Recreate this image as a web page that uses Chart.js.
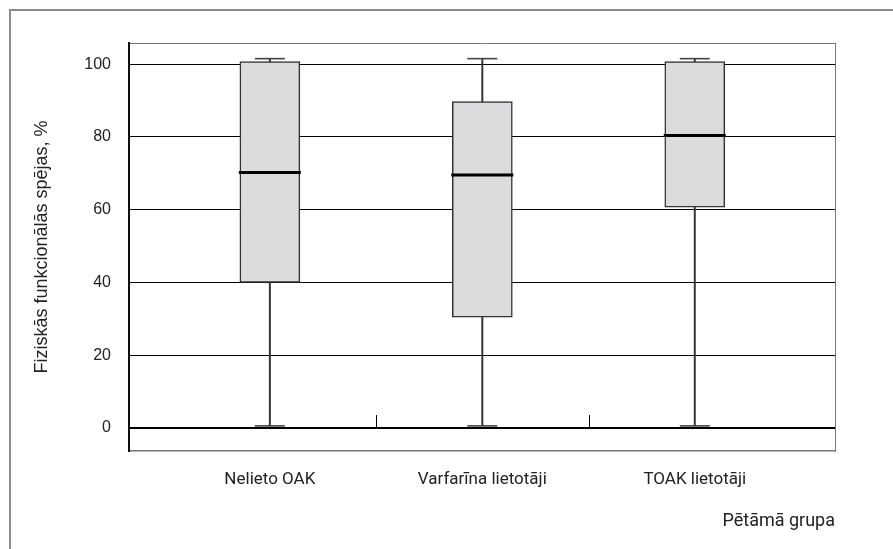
<!DOCTYPE html>
<html>
<head>
<meta charset="utf-8">
<script src="https://cdn.jsdelivr.net/npm/chart.js@4.4.1/dist/chart.umd.min.js"></script>
<style>
  html, body { margin: 0; padding: 0; background: #fff; overflow: hidden; }
  #wrap { position: relative; width: 893px; height: 549px; }
  #frame { position: absolute; left: 9px; top: 9px; width: 900px; height: 560px;
           border-left: 2px solid #8c8c8c; border-top: 2px solid #8c8c8c; }
  canvas { position: absolute; left: 0; top: 0; }
</style>
</head>
<body>
<div id="wrap">
  <div id="frame"></div>
  <canvas id="chart" width="893" height="549"></canvas>
</div>
<script>
// ---------- Data ----------
const groups     = ["Nelieto OAK", "Varfarīna lietotāji", "TOAK lietotāji"];
const groupPos   = [1, 2, 3];
const whiskerMin = [0.6, 0.6, 0.6];
const boxLow     = [40.0, 30.5, 60.7];
const medians    = [70.2, 69.5, 80.4];
const boxHigh    = [100.7, 89.7, 100.7];
const whiskerMax = [101.5, 101.5, 101.5];
const yTicks     = [0, 20, 40, 60, 80, 100];
const dividerTicks = [1.5, 2.5]; // short marks between groups on the 0 line

const TEXT = "#222";
const SANS = "'Liberation Sans', Arial, sans-serif";
const LABEL_FONT = "Roboto, 'Liberation Sans', sans-serif";
const X_MIN = 0.337, X_MAX = 3.66;
const Y_MIN = -6.3, Y_MAX = 105.8;

// ---------- Helpers ----------
function pts(values) {
  return values.map((v, i) => ({ x: groupPos[i], y: v }));
}
function ranges(lo, hi) {
  return lo.map((v, i) => ({ x: groupPos[i], y: [v, hi[i]] }));
}

// short vertical marks standing on the zero line
const dividerPlugin = {
  id: "dividers",
  afterDatasetsDraw(chart) {
    const { ctx, scales: { x, y } } = chart;
    const y0 = y.getPixelForValue(0);
    ctx.save();
    ctx.strokeStyle = "#000";
    ctx.lineWidth = 1;
    dividerTicks.forEach(v => {
      const px = Math.round(x.getPixelForValue(v)) + 0.5;
      ctx.beginPath();
      ctx.moveTo(px, y0);
      ctx.lineTo(px, y0 - 13);
      ctx.stroke();
    });
    ctx.restore();
  }
};

new Chart(document.getElementById("chart"), {
  type: "bar",
  data: {
    datasets: [
      {
        label: "median",
        type: "scatter",
        data: pts(medians),
        pointStyle: "line",
        pointRadius: 31,
        borderWidth: 3,
        borderColor: "#000",
        order: 1
      },
      {
        label: "caps",
        type: "scatter",
        data: pts(whiskerMin).concat(pts(whiskerMax)),
        pointStyle: "line",
        pointRadius: 15,
        borderWidth: 1.6,
        borderColor: "#444",
        order: 2
      },
      {
        label: "box",
        data: ranges(boxLow, boxHigh),
        backgroundColor: "#dcdcde",
        borderColor: "#333",
        borderWidth: 1.5,
        borderSkipped: false,
        barThickness: 60,
        grouped: false,
        order: 3
      },
      {
        label: "whisker",
        data: ranges(whiskerMin, whiskerMax),
        backgroundColor: "#333",
        borderWidth: 0,
        barThickness: 1.3,
        grouped: false,
        order: 4
      }
    ]
  },
  options: {
    responsive: false,
    animation: false,
    events: [],
    layout: { padding: { left: 0, top: 0, right: 57, bottom: 0 } },
    plugins: {
      legend: { display: false },
      tooltip: { enabled: false }
    },
    scales: {
      x: {
        type: "linear",
        position: "bottom",
        offset: false,
        min: X_MIN,
        max: X_MAX,
        afterBuildTicks: s => { s.ticks = groupPos.map(v => ({ value: v })); },
        afterFit: s => { s.height = 98; },
        grid: { display: false, drawTicks: false },
        border: { display: true, color: "#777", width: 1.5 },
        ticks: {
          color: TEXT,
          font: { family: LABEL_FONT, size: 17 },
          padding: 19,
          callback: v => groups[groupPos.indexOf(v)]
        },
        title: {
          display: true,
          align: "end",
          text: "Pētāmā grupa",
          color: TEXT,
          font: { family: LABEL_FONT, size: 18 },
          padding: { top: 0, bottom: 17 }
        }
      },
      xTop: {
        type: "linear",
        position: "top",
        offset: false,
        min: X_MIN,
        max: X_MAX,
        afterFit: s => { s.height = 43; },
        grid: { display: false, drawTicks: false },
        border: { display: true, color: "#777", width: 1 },
        ticks: { display: false }
      },
      y: {
        min: Y_MIN,
        max: Y_MAX,
        afterBuildTicks: s => { s.ticks = yTicks.map(v => ({ value: v })); },
        afterFit: s => { s.width = 129; },
        grid: {
          color: "#000",
          lineWidth: c => (c.tick && c.tick.value === 0 ? 2 : 1),
          drawTicks: false
        },
        border: { display: true, color: "#111", width: 2 },
        ticks: {
          color: TEXT,
          font: { family: SANS, size: 16 },
          padding: 18
        },
        title: {
          display: true,
          text: "Fiziskās funkcionālās spējas, %",
          color: TEXT,
          font: { family: SANS, size: 18 },
          padding: { top: 31, bottom: 0 }
        }
      },
      yRight: {
        position: "right",
        min: Y_MIN,
        max: Y_MAX,
        afterFit: s => { s.width = 1; },
        grid: { display: false, drawTicks: false },
        border: { display: true, color: "#777", width: 1 },
        ticks: { display: false }
      }
    }
  },
  plugins: [dividerPlugin]
});
</script>
</body>
</html>
